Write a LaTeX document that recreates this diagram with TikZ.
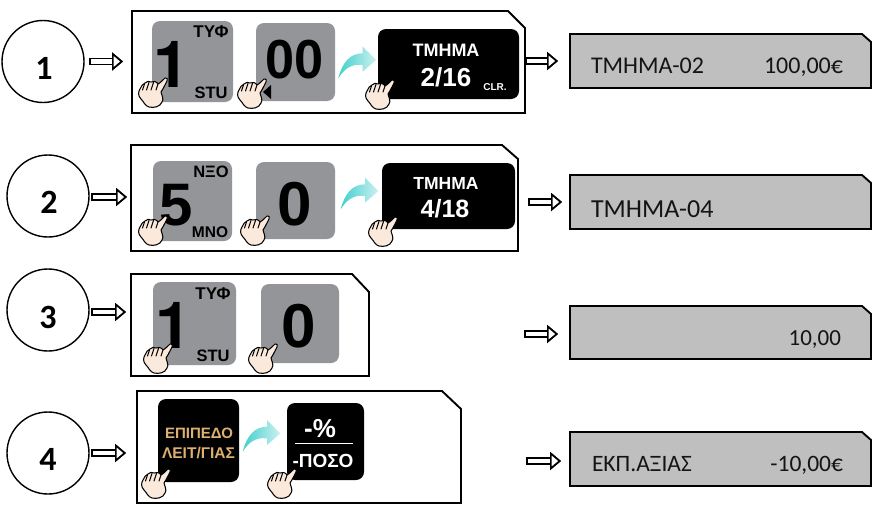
\documentclass[tikz,border=0pt]{standalone}
\usepackage{fontspec}
\setmainfont{Liberation Sans}
\newfontfamily\calibrilike{Carlito}
\newfontfamily\heros{TeX Gyre Heros}
\usetikzlibrary{arrows.meta}
\definecolor{keygray}{HTML}{939598}
\definecolor{dispgray}{HTML}{BFBFBF}
\definecolor{handfill}{HTML}{FBE9DC}
\definecolor{tealA}{HTML}{3FD0CE}
\definecolor{tealB}{HTML}{CDF0F0}
\definecolor{goldtext}{HTML}{DDB072}
\newcommand{\fs}[1]{\fontsize{#1}{#1}\selectfont}
\tikzset{
  x=1pt,y=-1pt,
  stepcircle/.style={circle,draw=black,line width=1.4pt,minimum size=82pt,inner sep=0pt,outer sep=0pt},
  anchorbox/.style={rectangle,inner sep=0pt,outer sep=0pt},
  panel/.style={draw=black,line width=1.9pt,line join=miter,fill=white},
  display/.style={draw=black,line width=1.9pt,line join=miter,fill=dispgray},
  graykey/.style={rectangle,rounded corners=8pt,fill=keygray,inner sep=0pt,outer sep=0pt},
  blackkey/.style={rectangle,rounded corners=8pt,fill=black,inner sep=0pt,outer sep=0pt},
  lbl/.style={anchor=base,inner sep=0pt,outer sep=0pt,font=\bfseries},
  disptext/.style={anchor=base west,inner sep=0pt,outer sep=0pt,text=black!92},
  hollow/.style 2 args={draw=white,line width=4.4pt,shorten <=#1pt,shorten >=#2pt,
    -{Triangle[length=11pt,width=18pt,color=black,fill=white,line width=1.7pt,sep=0pt]},
    preaction={draw=black,line width=7.6pt,shorten <={(#1-1.6)*1pt},shorten >=#2pt}},
  hand/.pic={
    \draw[fill=handfill,draw=black,line width=1.05pt,line join=round]
      (27,1) .. controls (29,0) and (30,2) .. (29,4)
      .. controls (27,8) and (25,12) .. (23,15)
      .. controls (24,19) and (26,22) .. (24,25)
      .. controls (22,30) and (16,31) .. (11,30)
      .. controls (7,29) and (6,25) .. (3,22)
      .. controls (0,19) and (0,15) .. (2,12)
      .. controls (3,9) and (5,7) .. (7,6)
      .. controls (9,4) and (11,4) .. (13,5)
      .. controls (15,4) and (18,4) .. (20,7)
      .. controls (22,6) and (25,3) .. (27,1) -- cycle;
    \draw[black,line width=1pt,line cap=round]
      (6.5,7) -- (4.5,13) (11,5.5) -- (8.5,13) (15.5,5.5) -- (13,13) (20,7) -- (18,13);
  },
  curved/.pic={
    \shade[left color=tealA,right color=tealB,shading angle=90]
      (0,0) .. controls (4,-16) and (12,-25) .. (24.3,-25)
      -- (24.3,-31.7) -- (37.7,-18.3) -- (24.3,-6.7) -- (24.3,-13.3)
      .. controls (12,-15) and (5,-8) .. (0,0) -- cycle;
  },
}
\newcommand{\boxnode}[7]{% style, name, x1,y1,x2,y2, extra
  \node[#1,minimum width={(#5-#3)*1pt},minimum height={(#6-#4)*1pt},#7] (#2) at ({(#3+#5)/2},{(#4+#6)/2}) {};}
% style, name, x1,y1,x2,y2, chamfer x, chamfer y
\newcommand{\chamfbox}[8]{%
  \boxnode{anchorbox}{#2}{#3}{#4}{#5}{#6}{}
  \draw[#1] (#2.south west) -- (#2.south east) -- ([yshift=-#8pt]#2.north east)
    -- ([xshift=-#7pt]#2.north east) -- (#2.north west) -- cycle;}
\begin{document}
\begin{tikzpicture}
\useasboundingbox (0,0) rectangle (874,506);
\fill[white] (0,0) rectangle (874,506);

% step circles
\node[stepcircle] (c1) at (43,61.5) {};
\node[stepcircle] (c2) at (48,196) {};
\node[stepcircle] (c3) at (48,310) {};
\node[stepcircle] (c4) at (48,453) {};
\node[lbl,font=\calibrilike\bfseries\fs{34}] (n1) at (44,79) {1};
\node[lbl,font=\calibrilike\bfseries\fs{34}] (n2) at (49,213) {2};
\node[lbl,font=\calibrilike\bfseries\fs{34}] (n3) at (48,328) {3};
\node[lbl,font=\calibrilike\bfseries\fs{34}] (n4) at (48,470) {4};

% panels
\chamfbox{panel}{f1}{132}{11}{525}{113}{17}{17}
\chamfbox{panel}{f2}{131}{145}{518}{251}{16}{14}
\chamfbox{panel}{f3}{131}{274}{369}{376}{17}{18}
\chamfbox{panel}{f4}{137}{391}{461}{503}{19}{18}

% displays
\chamfbox{display}{r1}{570}{34}{871}{88}{9}{8}
\chamfbox{display}{r2}{570}{175}{871}{229}{9}{8}
\chamfbox{display}{r3}{570}{306}{871}{359}{9}{8}
\chamfbox{display}{r4}{570}{432}{871}{486}{9}{8}

% connectors
\draw[hollow={7}{9}] (c1.east) -- (c1.east -| f1.west);
\draw[hollow={4}{4}] ([yshift=-1pt]c2.east) -- ([yshift=-1pt]c2.east -| f2.west);
\draw[hollow={4}{5}] ([yshift=-2pt]c3.east) -- ([yshift=-2pt]c3.east -| f3.west);
\draw[hollow={4}{11}] (c4.east) -- (c4.east -| f4.west);
\draw[hollow={2}{12}] (r1.west -| f1.east) -- (r1.west);
\draw[hollow={12}{8}] (r2.west -| f2.east) -- (r2.west);
\draw[hollow={157}{12}] ([yshift=-1.5pt]r3.west -| f3.east) -- ([yshift=-1.5pt]r3.west);
\draw[hollow={67}{9}] ([yshift=-2pt]r4.west -| f4.east) -- ([yshift=-2pt]r4.west);

% row 1 keys
\boxnode{graykey}{k11}{152}{21}{233}{102}{}
\boxnode{graykey}{k12}{256}{23}{335}{101}{}
\boxnode{blackkey}{k13}{378}{29}{519}{99}{}
\node[lbl,font=\heros\bfseries\fs{65}] (t11) at (172,87) {1};
\node[lbl,font=\bfseries\fs{17}] (t12) at (211,37) {ΤΥΦ};
\node[lbl,font=\bfseries\fs{16.5}] (t13) at (211,98) {STU};
\node[lbl,font=\bfseries\fs{55},xscale=.95] (t14) at (295,78) {00};
\node[lbl,font=\bfseries\fs{18},text=white] (t15) at (446,56) {ΤΜΗΜΑ};
\node[lbl,font=\bfseries\fs{26},text=white] (t16) at (446,86) {2/16};
\node[lbl,font=\bfseries\fs{10},text=white] (t17) at (495,90) {CLR.};
\fill[black] (263,92) -- (271,85) -- (271,99) -- cycle;
\pic at (338.3,78.3) {curved};
\pic at (138,77) {hand};
\pic at (237,78) {hand};
\pic at (365,79) {hand};

% row 2 keys
\boxnode{graykey}{k21}{153}{161}{232}{241}{}
\boxnode{graykey}{k22}{256}{162}{335}{239}{}
\boxnode{blackkey}{k23}{382}{163}{515}{229}{}
\node[lbl,font=\bfseries\fs{60}] (t21) at (176,225) {5};
\node[lbl,font=\bfseries\fs{16.5}] (t22) at (211,177) {ΝΞΟ};
\node[lbl,font=\bfseries\fs{15.5}] (t23) at (210,237) {MNO};
\node[lbl,font=\bfseries\fs{62}] (t24) at (295,225) {0};
\node[lbl,font=\bfseries\fs{17.5},text=white] (t25) at (446,189) {ΤΜΗΜΑ};
\node[lbl,font=\bfseries\fs{25},text=white] (t26) at (445,217) {4/18};
\pic at (340.7,209.3) {curved};
\pic at (138,215) {hand};
\pic at (240,215) {hand};
\pic at (368,216) {hand};

% row 3 keys
\boxnode{graykey}{k31}{153}{282}{236}{365}{}
\boxnode{graykey}{k32}{261}{284}{339}{363}{}
\node[lbl,font=\heros\bfseries\fs{65}] (t31) at (174,348) {1};
\node[lbl,font=\bfseries\fs{17}] (t32) at (213,299) {ΤΥΦ};
\node[lbl,font=\bfseries\fs{16.5}] (t33) at (213,361) {STU};
\node[lbl,font=\bfseries\fs{62}] (t34) at (299,347) {0};
\pic at (143,343) {hand};
\pic at (248,343) {hand};

% row 4 keys
\boxnode{blackkey}{k41}{158}{399}{239}{482}{}
\boxnode{blackkey}{k42}{287}{403}{364}{480}{}
\node[lbl,font=\bfseries\fs{15},text=goldtext] (t41) at (199,438) {ΕΠΙΠΕΔΟ};
\node[lbl,font=\bfseries\fs{15.5},text=goldtext] (t42) at (198.5,458) {ΛΕΙΤ/ΓΙΑΣ};
\node[lbl,font=\bfseries\fs{26},text=white] (t43) at (320,437) {-\%};
\draw[white,line width=1.5pt] (295,443.5) -- (353,443.5);
\node[lbl,font=\bfseries\fs{19},text=white] (t44) at (323,467) {-ΠΟΣΟ};
\pic at (242.7,451.7) {curved};
\pic at (141,468) {hand};
\pic at (267,468) {hand};

% display texts
\node[disptext,font=\calibrilike\fs{24}] (d11) at (591,73) {ΤΜΗΜΑ-02};
\node[disptext,font=\calibrilike\fs{24},anchor=base east] (d12) at (843,73) {100,00€};
\node[disptext,font=\calibrilike\fs{26}] (d21) at (591,217) {ΤΜΗΜΑ-04};
\node[disptext,font=\calibrilike\fs{23},anchor=base east] (d31) at (841,345) {10,00};
\node[disptext,font=\calibrilike\fs{23.5}] (d41) at (592,471) {ΕΚΠ.ΑΞΙΑΣ};
\node[disptext,font=\calibrilike\fs{23.5},anchor=base east] (d42) at (843,471) {-10,00€};
\end{tikzpicture}
\end{document}
